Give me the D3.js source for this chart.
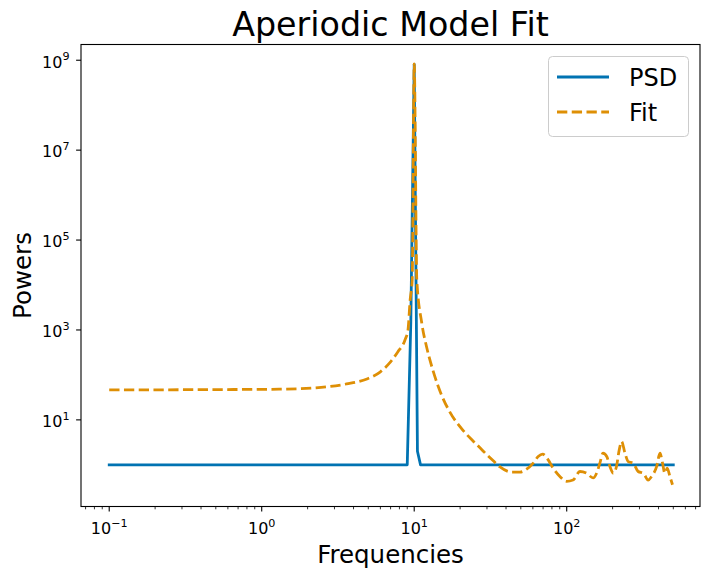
<!DOCTYPE html>
<html>
<head>
<meta charset="utf-8">
<script src="https://cdn.jsdelivr.net/npm/d3@7"></script>
<style>
  html, body { margin: 0; padding: 0; background: #fff; }
  text { font-family: "DejaVu Sans", sans-serif; fill: #000; }
</style>
</head>
<body>
<svg id="chart" width="711" height="577"></svg>
<script>
// ---- data ----
const title = "Aperiodic Model Fit";
const xLabel = "Frequencies";
const yLabel = "Powers";
const seriesNames = ["PSD", "Fit"];
const psdFreqs  = [0.1, 9.0, 9.5, 10.0, 10.5, 11.0, 500];
const psdPowers = [1, 1, 1500, 8.1e8, 2.0, 1, 1];
const fitFreqs = [0.1, 1.3, 2.2, 3.6, 4.9, 6.0, 6.9, 7.8, 8.7, 9.1, 9.4, 9.7, 10.0, 10.4, 11.2, 12.1, 13.3, 15.2, 17.1, 20.5, 24.3, 27, 30, 33, 36.5, 43.5, 49.4, 54.6, 60.3, 65, 69.5, 75.6, 81.5, 90.2, 99.8, 110, 122, 135, 149, 157, 165, 173, 183, 192, 202, 212, 221, 229, 241, 253, 273, 294, 318, 342, 360, 389, 409, 425, 440, 456, 475, 494];
const fitPowers = [46.4, 48.1, 51.4, 63, 81.5, 117, 185, 324, 600, 1000, 4600, 13000, 8.3e8, 13000, 1450, 398, 123, 34, 15.1, 6.3, 3.4, 2.39, 1.67, 1.23, 0.90, 0.69, 0.69, 0.80, 1.09, 1.53, 1.73, 1.29, 0.84, 0.55, 0.43, 0.46, 0.71, 0.65, 0.51, 0.65, 1.09, 1.82, 1.53, 0.92, 0.65, 0.92, 2.15, 3.30, 1.82, 1.18, 1.09, 0.71, 0.65, 0.46, 0.55, 0.92, 1.82, 1.09, 0.65, 0.84, 0.55, 0.36];
const xTickExps = [-1, 0, 1, 2];
const yTickExps = [1, 3, 5, 7, 9];
const xDomain = [Math.pow(10, -1.185), Math.pow(10, 2.874)];
const yDomain = [Math.pow(10, -0.927), Math.pow(10, 9.35)];
const colors = ["#0173b2", "#de8f05"];

// ---- layout ----
const L = 81, R = 700, T = 44.5, B = 506.5;
const svg = d3.select("#chart");
const x = d3.scaleLog().domain(xDomain).range([L, R]);
const y = d3.scaleLog().domain(yDomain).range([B, T]);

svg.append("defs").append("clipPath").attr("id", "clip")
  .append("rect").attr("x", L).attr("y", T).attr("width", R - L).attr("height", B - T);

const psd = psdFreqs.map((f, i) => [f, psdPowers[i]]);
const fit = fitFreqs.map((f, i) => [f, fitPowers[i]]);
const lineLin = d3.line().x(d => x(d[0])).y(d => y(d[1]));
const lineSmooth = d3.line().x(d => x(d[0])).y(d => y(d[1])).curve(d3.curveMonotoneX);

const g = svg.append("g").attr("clip-path", "url(#clip)");
g.append("path").datum(psd).attr("d", lineLin)
  .attr("fill", "none").attr("stroke", colors[0]).attr("stroke-width", 2.78)
  .attr("stroke-linejoin", "round").attr("stroke-linecap", "square");
g.append("path").datum(fit).attr("d", lineSmooth)
  .attr("fill", "none").attr("stroke", colors[1]).attr("stroke-width", 2.78)
  .attr("stroke-dasharray", "10.3,4.45");

svg.append("rect").attr("x", L).attr("y", T).attr("width", R - L).attr("height", B - T)
  .attr("fill", "none").attr("stroke", "#000").attr("stroke-width", 1.1);

// x ticks
const xMajor = xTickExps.map(e => Math.pow(10, e));
const xMinor = [];
for (let e = -2; e <= 2; e++) for (let k = 2; k <= 9; k++) {
  const v = k * Math.pow(10, e);
  if (v >= xDomain[0] && v <= xDomain[1]) xMinor.push(v);
}
const xAxis = svg.append("g");
xAxis.selectAll("line.minor").data(xMinor).enter().append("line")
  .attr("x1", d => x(d)).attr("x2", d => x(d)).attr("y1", B).attr("y2", B + 2.8)
  .attr("stroke", "#000").attr("stroke-width", 0.8);
xAxis.selectAll("line.major").data(xMajor).enter().append("line")
  .attr("x1", d => x(d)).attr("x2", d => x(d)).attr("y1", B).attr("y2", B + 4.9)
  .attr("stroke", "#000").attr("stroke-width", 1.1);
const xt = xAxis.selectAll("text.xt").data(xTickExps).enter().append("text")
  .attr("x", e => x(Math.pow(10, e))).attr("y", 534)
  .attr("text-anchor", "middle").attr("font-size", 16);
xt.append("tspan").text("10");
xt.append("tspan").attr("dy", -7.5).attr("font-size", 11.2)
  .text(e => String(e).replace("-", "\u2212"));

// y ticks
const yAxis = svg.append("g");
yAxis.selectAll("line").data(yTickExps).enter().append("line")
  .attr("x1", L).attr("x2", L - 4.9).attr("y1", e => y(Math.pow(10, e))).attr("y2", e => y(Math.pow(10, e)))
  .attr("stroke", "#000").attr("stroke-width", 1.1);
const yt = yAxis.selectAll("text").data(yTickExps).enter().append("text")
  .attr("x", L - 11.5).attr("y", e => y(Math.pow(10, e)) + 7.3)
  .attr("text-anchor", "end").attr("font-size", 16);
yt.append("tspan").text("10");
yt.append("tspan").attr("dy", -7.5).attr("font-size", 11.2).text(e => String(e));

// labels
svg.append("text").attr("x", (L + R) / 2).attr("y", 36).attr("text-anchor", "middle")
  .attr("font-size", 33.3).text(title);
svg.append("text").attr("x", (L + R) / 2).attr("y", 563).attr("text-anchor", "middle")
  .attr("font-size", 24.5).text(xLabel);
svg.append("text").attr("transform", `translate(31,${(T + B) / 2}) rotate(-90)`)
  .attr("text-anchor", "middle").attr("font-size", 24.5).text(yLabel);

// legend
const lg = svg.append("g");
lg.append("rect").attr("x", 548.5).attr("y", 56.5).attr("width", 140).attr("height", 80)
  .attr("rx", 4).attr("fill", "#fff").attr("fill-opacity", 0.8)
  .attr("stroke", "#cccccc").attr("stroke-width", 1);
const legY = [77, 112];
seriesNames.forEach((name, i) => {
  const ln = lg.append("line").attr("x1", 557).attr("x2", 609).attr("y1", legY[i]).attr("y2", legY[i])
    .attr("stroke", colors[i]).attr("stroke-width", 2.78);
  if (i === 1) ln.attr("stroke-dasharray", "10.3,4.45");
  lg.append("text").attr("x", 629).attr("y", legY[i] + 8.5).attr("font-size", 24).text(name);
});
</script>
</body>
</html>
